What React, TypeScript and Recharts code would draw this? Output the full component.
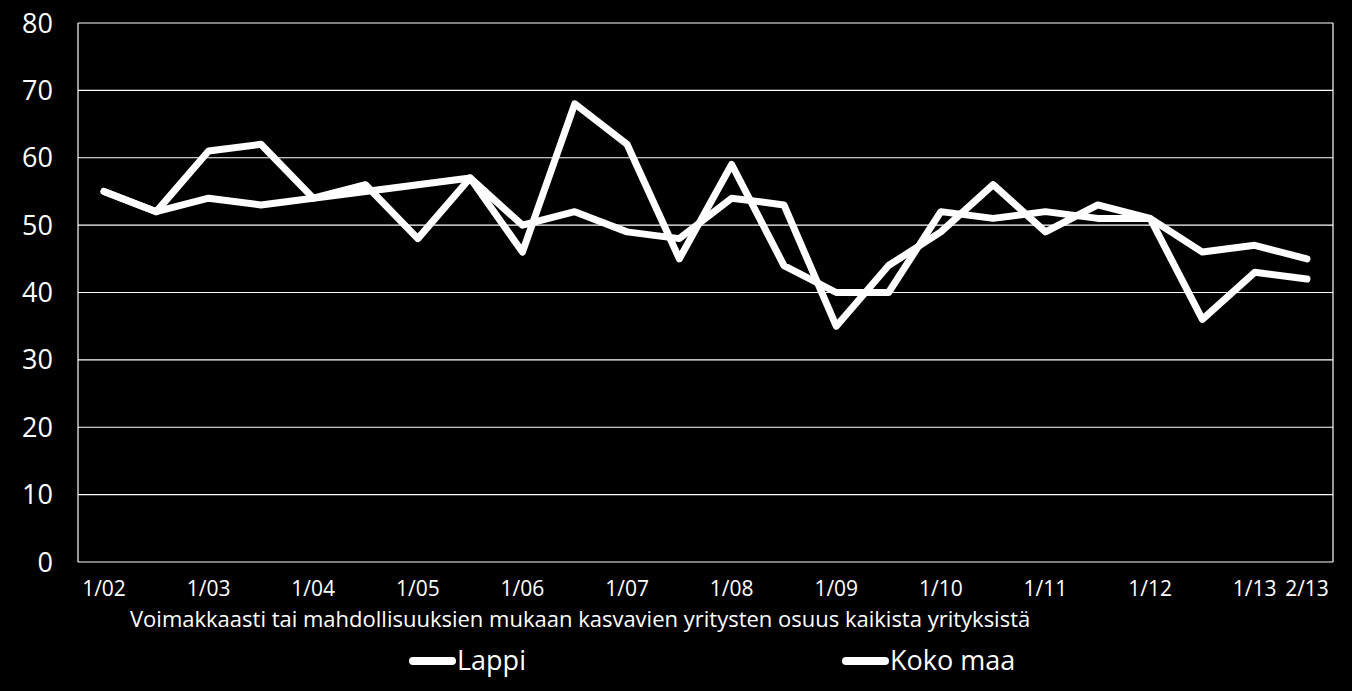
import React from 'react';
import { LineChart, Line, XAxis, YAxis, CartesianGrid, Legend } from 'recharts';

const categories = [
  '1/02', '2/02', '1/03', '2/03', '1/04', '2/04', '1/05', '2/05',
  '1/06', '2/06', '1/07', '2/07', '1/08', '2/08', '1/09', '2/09',
  '1/10', '2/10', '1/11', '2/11', '1/12', '2/12', '1/13', '2/13',
];
const lappi = [55, 52, 61, 62, 54, 56, 48, 57, 46, 68, 62, 45, 59, 44, 40, 40, 52, 51, 52, 51, 51, 46, 47, 45];
const kokoMaa = [55, 52, 54, 53, 54, 55, 56, 57, 50, 52, 49, 48, 54, 53, 35, 44, 49, 56, 49, 53, 51, 36, 43, 42];
const xTickLabels = ['1/02', '1/03', '1/04', '1/05', '1/06', '1/07', '1/08', '1/09', '1/10', '1/11', '1/12', '1/13', '2/13'];
const yTicks = [0, 10, 20, 30, 40, 50, 60, 70, 80];
const seriesNames = ['Lappi', 'Koko maa'];
const axisTitle = 'Voimakkaasti tai mahdollisuuksien mukaan kasvavien yritysten osuus kaikista yrityksistä';

const data = categories.map((c, i) => ({ cat: c, lappi: lappi[i], koko: kokoMaa[i] }));

const FONT = '"Open Sans", sans-serif';
const legendLefts = [409, 842];

const LegendContent = (props: any) => {
  const payload = props.payload || [];
  const items = seriesNames.map((n) => payload.find((p: any) => p.value === n)).filter(Boolean);
  return (
    <div style={{ position: 'relative', width: 1352, height: 95, fontFamily: FONT, color: '#fff' }}>
      <span style={{ position: 'absolute', left: 130, top: 10, fontSize: 22, lineHeight: '22px', whiteSpace: 'nowrap' }}>
        {axisTitle}
      </span>
      {items.map((p: any, i: number) => (
        <div key={p.value} style={{ position: 'absolute', left: legendLefts[i], top: 0 }}>
          <div style={{ position: 'absolute', left: 0, top: 60, width: 47, height: 8, borderRadius: 4, background: '#fff' }} />
          <span style={{ position: 'absolute', left: 48, top: 49, fontSize: 27, lineHeight: '27px', whiteSpace: 'nowrap' }}>
            {p.value}
          </span>
        </div>
      ))}
    </div>
  );
};

export default function App() {
  return (
    <div style={{ position: 'absolute', left: 0, top: 0, width: 1352, height: 691, background: '#000', overflow: 'hidden' }}>
      <LineChart width={1352} height={691} data={data} margin={{ top: 23, right: 19, bottom: 0, left: 0 }}>
        <CartesianGrid
          stroke="#fff"
          strokeWidth={1.2}
          verticalCoordinatesGenerator={({ offset }: any) => [offset.left, offset.left + offset.width]}
        />
        <XAxis
          dataKey="cat"
          ticks={xTickLabels}
          interval={0}
          padding={{ left: 26, right: 26 }}
          axisLine={false}
          tickLine={false}
          tickSize={0}
          tickMargin={19}
          height={34}
          tick={{ fill: '#fff', fontSize: 21, fontFamily: FONT }}
        />
        <YAxis
          domain={[0, 80]}
          ticks={yTicks}
          interval={0}
          width={78}
          axisLine={false}
          tickLine={false}
          tickSize={0}
          tickMargin={25}
          tick={{ fill: '#fff', fontSize: 27, fontFamily: FONT }}
        />
        <Legend
          verticalAlign="bottom"
          content={<LegendContent />}
          wrapperStyle={{ left: 0, top: 597, bottom: 'auto', width: 1352, height: 95 }}
        />
        <Line
          type="linear"
          dataKey="lappi"
          name={seriesNames[0]}
          stroke="#fff"
          strokeWidth={7}
          strokeLinejoin="round"
          strokeLinecap="round"
          dot={false}
          activeDot={false}
          isAnimationActive={false}
        />
        <Line
          type="linear"
          dataKey="koko"
          name={seriesNames[1]}
          stroke="#fff"
          strokeWidth={7}
          strokeLinejoin="round"
          strokeLinecap="round"
          dot={false}
          activeDot={false}
          isAnimationActive={false}
        />
      </LineChart>
    </div>
  );
}
